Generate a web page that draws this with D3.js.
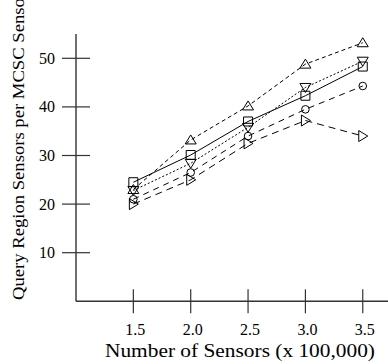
<!DOCTYPE html>
<html>
<head>
<script src="https://d3js.org/d3.v7.min.js"></script>
<style>
  body { margin: 0; background: #fff; }
  svg { display: block; font-family: "Liberation Serif", "DejaVu Serif", serif; }
</style>
</head>
<body>
<svg id="chart" width="388" height="364"></svg>
<script>
// data
var sensors = [1.5, 2.0, 2.5, 3.0, 3.5];
var squareVals = [24.5, 30.1, 37.0, 42.3, 48.3];
var upVals = [23.0, 33.2, 40.2, 48.8, 53.2];
var downVals = [22.8, 28.4, 35.8, 44.0, 49.4];
var circleVals = [21.0, 26.5, 34.0, 39.5, 44.3];
var rightVals = [20.0, 25.0, 32.5, 37.2, 34.0];
var xTicks = [1.5, 2.0, 2.5, 3.0, 3.5];
var yTicks = [10, 20, 30, 40, 50];

var series = [
  {vals: squareVals, sym: "square", dash: null},
  {vals: upVals, sym: "up", dash: "4,3"},
  {vals: downVals, sym: "down", dash: "2,2"},
  {vals: circleVals, sym: "circle", dash: "6,5"},
  {vals: rightVals, sym: "right", dash: "7,5"}
];

var svg = d3.select("#chart");

var x = d3.scaleLinear([1, 3.72], [76, 388]);
var y = d3.scaleLinear([0, 55], [301.3, 34]);

// axes
var axisColor = "#333";
svg.append("line").attr("x1", x(1)).attr("x2", x(3.72))
  .attr("y1", y(0)).attr("y2", y(0))
  .attr("stroke", axisColor).attr("stroke-width", 1.4);
svg.append("line").attr("x1", x(1)).attr("x2", x(1))
  .attr("y1", y(0)).attr("y2", y(55))
  .attr("stroke", axisColor).attr("stroke-width", 1.4);

svg.selectAll(".yt").data(yTicks).join("line")
  .attr("x1", x(1) - 14).attr("x2", x(1) + 14)
  .attr("y1", d => y(d)).attr("y2", d => y(d))
  .attr("stroke", axisColor).attr("stroke-width", 1.2);
svg.selectAll(".ytl").data(yTicks).join("text")
  .attr("x", 55).attr("y", d => y(d) + 5.5)
  .attr("text-anchor", "end").attr("font-size", 16)
  .text(d => d);

svg.selectAll(".xt").data(xTicks).join("line")
  .attr("x1", d => x(d)).attr("x2", d => x(d))
  .attr("y1", y(0) - 12).attr("y2", y(0) + 12)
  .attr("stroke", axisColor).attr("stroke-width", 1.2);
svg.selectAll(".xtl").data(xTicks).join("text")
  .attr("x", d => x(d) + 2).attr("y", 335)
  .attr("text-anchor", "middle").attr("font-size", 16)
  .text(d => d.toFixed(1));

svg.append("text").attr("x", 105).attr("y", 357)
  .attr("font-size", 18)
  .attr("textLength", 270).attr("lengthAdjust", "spacingAndGlyphs")
  .text("Number of Sensors (x 100,000)");

svg.append("text")
  .attr("transform", "translate(24,300) rotate(-90)")
  .attr("font-size", 17)
  .attr("textLength", 308).attr("lengthAdjust", "spacingAndGlyphs")
  .text("Query Region Sensors per MCSC Sensor");

// lines
var line = d3.line().x((d, i) => x(sensors[i])).y(d => y(d));
svg.selectAll(".ser").data(series).join("path")
  .attr("d", d => line(d.vals))
  .attr("fill", "none").attr("stroke", "#000").attr("stroke-width", 1)
  .attr("stroke-dasharray", d => d.dash);

// markers
function markerPath(sym) {
  if (sym === "square") return "M-4.5,-4.5H4.5V4.5H-4.5Z";
  if (sym === "up") return "M0,-5L5.5,4L-5.5,4Z";
  if (sym === "down") return "M0,5L5.5,-4L-5.5,-4Z";
  if (sym === "right") return "M5,0L-4,-5.5L-4,5.5Z";
  return d3.arc()({innerRadius: 0, outerRadius: 3.8, startAngle: 0, endAngle: 2 * Math.PI});
}
series.forEach(function (s) {
  svg.append("g").selectAll("path").data(s.vals).join("path")
    .attr("transform", (d, i) => "translate(" + x(sensors[i]) + "," + y(d) + ")")
    .attr("d", markerPath(s.sym))
    .attr("fill", "none").attr("stroke", "#000").attr("stroke-width", 1);
});
</script>
</body>
</html>
